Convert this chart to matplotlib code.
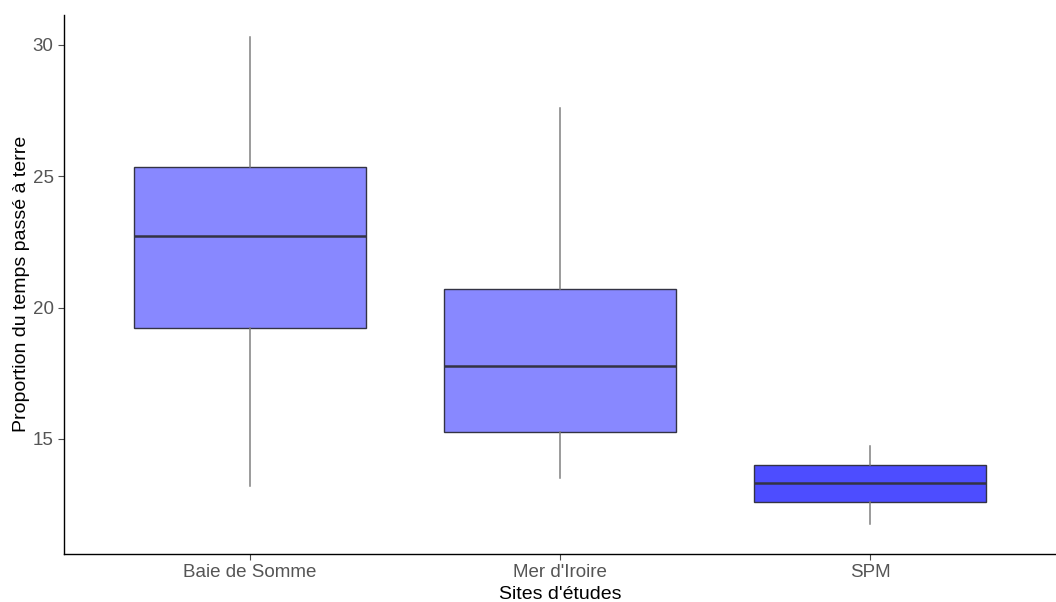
import matplotlib
matplotlib.use("Agg")
import matplotlib.pyplot as plt

plt.rcParams['font.family'] = ['Liberation Sans', 'DejaVu Sans']

sites = ["Baie de Somme", "Mer d'Iroire", "SPM"]
whislo = [13.21, 13.52, 11.76]
q1 = [19.22, 15.27, 12.59]
med = [22.72, 17.78, 13.31]
q3 = [25.37, 20.71, 14.01]
whishi = [30.30, 27.59, 14.74]
fills = ["#8888FF", "#8888FF", "#4D4DFF"]

yticks = [15, 20, 25, 30]

fig = plt.figure(figsize=(10.56, 6.02), dpi=100)
ax = fig.add_axes([64/1056, 1-554/602, 1-64/1056, (554-14.7)/602])

stats = []
for i, s in enumerate(sites):
    stats.append(dict(label=s, whislo=whislo[i], q1=q1[i], med=med[i],
                      q3=q3[i], whishi=whishi[i], fliers=[]))

bp = ax.bxp(stats, positions=[1, 2, 3], widths=0.75, patch_artist=True,
            showcaps=False, showfliers=False,
            boxprops=dict(edgecolor="#333344", linewidth=1.0),
            medianprops=dict(color="#333344", linewidth=1.8),
            whiskerprops=dict(color="#808080", linewidth=1.1))
for patch, c in zip(bp['boxes'], fills):
    patch.set_facecolor(c)

ax.set_xlim(0.4, 3.6)
ax.set_ylim(10.62, 31.15)
ax.set_yticks(yticks)
ax.set_xticks([1, 2, 3])
ax.set_xticklabels(sites)

for side in ['top', 'right']:
    ax.spines[side].set_visible(False)
for side in ['left', 'bottom']:
    ax.spines[side].set_color('black')
    ax.spines[side].set_linewidth(1.0)

ax.tick_params(axis='both', colors='#4D4D4D', labelsize=13.5, length=4, width=0.8)
ax.tick_params(axis='both', labelcolor='#555555')
ax.set_xlabel("Sites d'études", fontsize=14, color='black', labelpad=3)
ax.set_ylabel("Proportion du temps passé à terre", fontsize=14, color='black', labelpad=2)

fig.savefig("out.png", dpi=100)
